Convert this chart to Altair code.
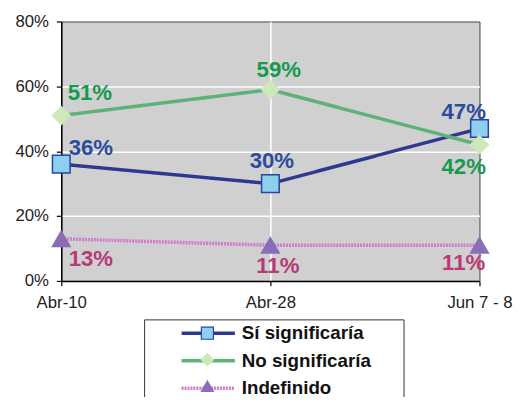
import altair as alt
import pandas as pd

FECHAS = ["Abr-10", "Abr-28", "Jun 7 - 8"]
SERIES = ["Sí significaría", "No significaría", "Indefinido"]
SI = [0.36, 0.30, 0.47]
NO = [0.51, 0.59, 0.42]
IND = [0.13, 0.11, 0.11]
Y_TICKS = [0, 0.2, 0.4, 0.6, 0.8]

LINE_COLORS = ["#2D3990", "#5DB27A", "#D27ACF"]
FILL_COLORS = ["#8ECFF0", "#CDE9B9", "#8A6DB8"]
EDGE_COLORS = ["#2845A0", "#CDE9B9", "#8A6DB8"]
TEXT_COLORS = ["#2B4C9E", "#17994E", "#B83A78"]
SHAPES = ["square", "diamond", "triangle-up"]
DASHES = [[1, 0], [1, 0], [2, 1]]

# label offsets (style) per series / date
OFF = {
    ("Sí significaría", "Abr-10"): (30, -16),
    ("Sí significaría", "Abr-28"): (1.5, -23),
    ("Sí significaría", "Jun 7 - 8"): (-16, -17),
    ("No significaría", "Abr-10"): (29, -22.5),
    ("No significaría", "Abr-28"): (8.5, -20),
    ("No significaría", "Jun 7 - 8"): (-16, 22.5),
    ("Indefinido", "Abr-10"): (30, 21),
    ("Indefinido", "Abr-28"): (7.5, 21),
    ("Indefinido", "Jun 7 - 8"): (-16, 18),
}

FONT = "Liberation Sans"

rows = []
for k, (s, vals) in enumerate(zip(SERIES, [SI, NO, IND])):
    for f, v in zip(FECHAS, vals):
        rows.append({"fecha": f, "serie": s, "orden": k, "valor": v})
df = pd.DataFrame(rows)

x = alt.X(
    "fecha:N", sort=FECHAS,
    scale=alt.Scale(type="point", padding=0),
    axis=alt.Axis(
        title=None, labelAngle=0, tickSize=5, labelPadding=9,
        domainColor="#000", domainWidth=1.5, tickColor="#000", tickWidth=1.2,
        grid=True, gridColor="#FFFFFF", gridWidth=1.5,
        gridOpacity={"condition": {"test": "datum.value === 'Abr-28'", "value": 1}, "value": 0},
    ),
)
y = alt.Y(
    "valor:Q",
    scale=alt.Scale(domain=[0, 0.8], nice=False, zero=True),
    axis=alt.Axis(
        title=None, values=Y_TICKS, format=".0%", tickSize=5, labelPadding=8,
        domainColor="#000", domainWidth=1.5, tickColor="#000", tickWidth=1.2,
        grid=True, gridColor="#FFFFFF", gridWidth=1.5,
        gridOpacity={"condition": {"test": "datum.value === 0 || datum.value === 0.8", "value": 0}, "value": 1},
    ),
)

# visible legend: line symbols + labels
LA = alt.Legend(
    title=None, orient="none", legendX=84, legendY=302, direction="vertical",
    symbolType="stroke", symbolSize=2916, symbolStrokeWidth=3.5, symbolOffset=31.5,
    labelOffset=5, labelFont=FONT, labelFontSize=19, labelFontWeight="bold",
    labelColor="#111", labelLimit=400, clipHeight=19, rowPadding=7.9, padding=4.5,
    zindex=1,
)
# marker symbols overlaid on the line symbols; its hidden spacer labels size the frame
LB = alt.Legend(
    title=None, orient="none", legendX=84, legendY=302, direction="vertical",
    symbolSize=150, symbolStrokeWidth=1.2, symbolOffset=52.4,
    labelOpacity=0, labelFontSize=14.5, labelFont=FONT, labelOffset=162, labelLimit=400,
    clipHeight=19, rowPadding=7.9, padding=4.5, zindex=2,
    labelExpr="'000'", strokeColor="#333",
)

lines = alt.Chart(df).mark_line(strokeWidth=3.5).encode(
    x=x, y=y,
    color=alt.Color("serie:N", sort=SERIES, scale=alt.Scale(domain=SERIES, range=LINE_COLORS), legend=LA),
    strokeDash=alt.StrokeDash("serie:N", sort=SERIES, scale=alt.Scale(domain=SERIES, range=DASHES), legend=LA),
)

points = alt.Chart(df).mark_point(
    filled=True, opacity=1, size=320, strokeWidth=1.5
).encode(
    x=x, y=y,
    fill=alt.Fill("orden:O", scale=alt.Scale(range=FILL_COLORS), legend=LB),
    stroke=alt.Stroke("orden:O", scale=alt.Scale(range=EDGE_COLORS), legend=LB),
    shape=alt.Shape("orden:O", scale=alt.Scale(range=SHAPES), legend=LB),
)

texts = []
for i, s in enumerate(SERIES):
    for f in FECHAS:
        dx, dy = OFF[(s, f)]
        t = alt.Chart(df).transform_filter(
            (alt.datum.serie == s) & (alt.datum.fecha == f)
        ).mark_text(
            dx=dx, dy=dy, align="center", baseline="middle",
            font=FONT, fontSize=22.5, fontWeight="bold", color=TEXT_COLORS[i],
        ).encode(x=x, y=y, text=alt.Text("valor:Q", format=".0%"))
        texts.append(t)

chart = alt.layer(lines, points, *texts).properties(
    width=424, height=263,
    padding={"left": 54, "top": 11, "right": 36, "bottom": 115},
    autosize=alt.AutoSizeParams(type="none"),
).configure_view(
    fill="#D0D0D0", stroke="#444", strokeWidth=1,
).configure_axis(
    labelFont=FONT, labelFontSize=17, labelColor="#222",
).configure_legend(
    labelFont=FONT,
)

chart.save("out.html", embed_options={"renderer": "svg", "actions": False})
